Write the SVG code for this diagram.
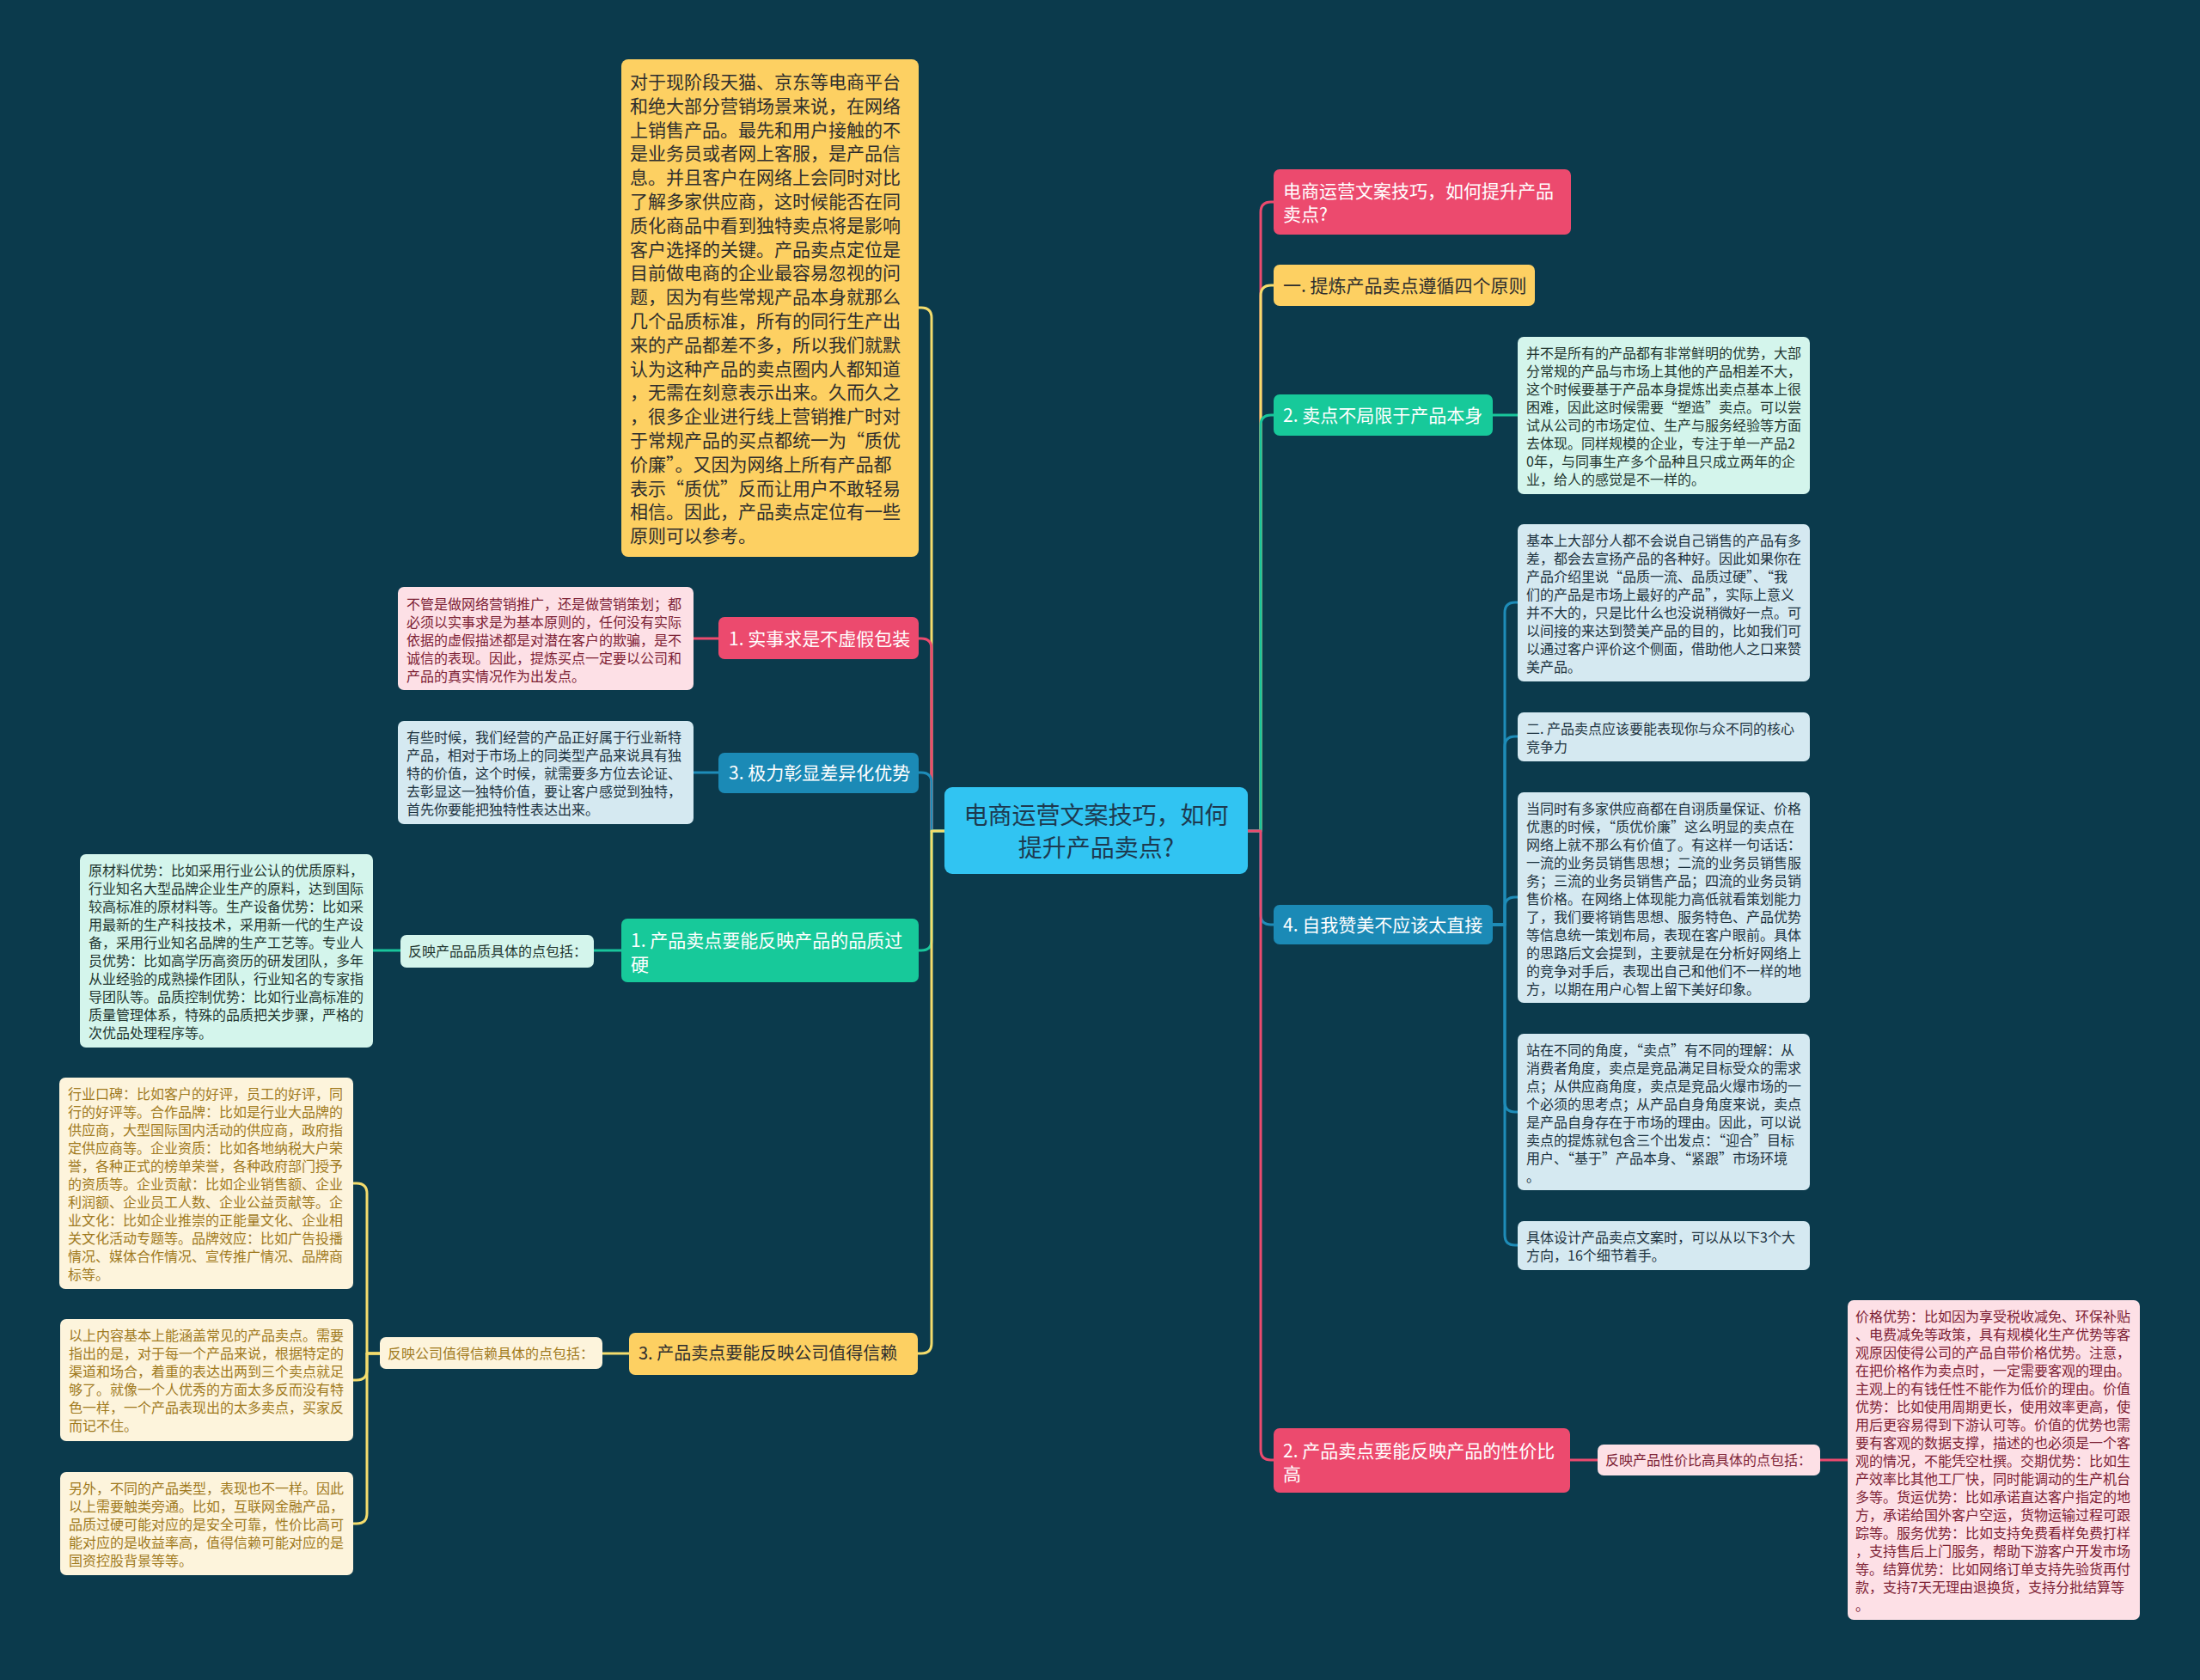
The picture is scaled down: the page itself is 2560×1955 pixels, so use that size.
<svg xmlns="http://www.w3.org/2000/svg" width="2560" height="1955" viewBox="0 0 2560 1955">
<style>
text{font-family:"Noto Sans CJK SC","Noto Sans",sans-serif}
.s{font-size:16px}
.m{font-size:21px}
.c{fill:none;stroke-width:3;stroke-linecap:round;stroke-linejoin:round}
.cp{stroke:#ec4a6e}.cy{stroke:#f4dc6c}.cg{stroke:#19c59b}.cb{stroke:#1e8cb8}
.fp{fill:#ec4a6e}.fy{fill:#fdd062}.fg{fill:#17c99a}.fb{fill:#1b8ab6}
.lp{fill:#fde0e6}.ly{fill:#fdf4dc}.lg{fill:#d4f5ec}.lb{fill:#d5e9f1}
.tw{fill:#ffffff}.td{fill:#2e2e2e}.tp{fill:#7d2235}.ty{fill:#a07a1e}.tg{fill:#22352f}.tb{fill:#1d3340}
</style>
<rect width="2560" height="1955" fill="#0b3a4c"/>
<g id="connectors">
<path class="c cy" d="M1099,967 H1084 V370 Q1084,358 1072,358 H1069"/>
<path class="c cp" d="M1099,967 H1084 V755 Q1084,743 1072,743 H1069"/>
<path class="c cb" d="M1099,967 H1084 V911 Q1084,899 1072,899 H1069"/>
<path class="c cg" d="M1099,967 H1084 V1094 Q1084,1106 1072,1106 H1069"/>
<path class="c cy" d="M1099,967 H1084 V1563 Q1084,1575 1072,1575 H1068"/>
<path class="c cp" d="M1452,967 H1467 V247 Q1467,235 1479,235 H1482"/>
<path class="c cy" d="M1452,967 H1467 V344 Q1467,332 1479,332 H1482"/>
<path class="c cg" d="M1452,967 H1467 V495 Q1467,483 1479,483 H1482"/>
<path class="c cb" d="M1452,967 H1467 V1064 Q1467,1076 1479,1076 H1482"/>
<path class="c cp" d="M1452,967 H1467 V1687 Q1467,1699 1479,1699 H1482"/>
<path class="c cp" d="M836,743 H807"/>
<path class="c cb" d="M836,899 H807"/>
<path class="c cg" d="M723,1106 H691"/>
<path class="c cg" d="M466,1106 H434"/>
<path class="c cy" d="M732,1575 H701"/>
<path class="c cy" d="M442,1575 H427 V1389 Q427,1377 415,1377 H411"/>
<path class="c cy" d="M442,1575 H427 V1594 Q427,1606 415,1606 H411"/>
<path class="c cy" d="M442,1575 H427 V1761 Q427,1773 415,1773 H411"/>
<path class="c cg" d="M1737,483 H1766"/>
<path class="c cb" d="M1737,1076 H1751 V713 Q1751,701 1763,701 H1766"/>
<path class="c cb" d="M1737,1076 H1751 V869 Q1751,857 1763,857 H1766"/>
<path class="c cb" d="M1737,1076 H1751 V1056 Q1751,1044 1763,1044 H1766"/>
<path class="c cb" d="M1737,1076 H1751 V1282 Q1751,1294 1763,1294 H1766"/>
<path class="c cb" d="M1737,1076 H1751 V1437 Q1751,1449 1763,1449 H1766"/>
<path class="c cp" d="M1827,1699 H1859"/>
<path class="c cp" d="M2118,1699 H2150"/>
</g>
<g id="center">
<rect x="1099" y="916" width="353" height="101" rx="9" fill="#31c4f2"/>
<text x="1275.5" y="959" font-size="28" fill="#1d3a50" text-anchor="middle">电商运营文案技巧，如何</text>
<text x="1275.5" y="997" font-size="28" fill="#1d3a50" text-anchor="middle">提升产品卖点?</text>
</g>
<g id="intro">
<rect class="fy" x="723" y="69" width="346" height="579" rx="8"/>
<text class="m td" x="733" y="103">
<tspan x="733">对于现阶段天猫、京东等电商平台</tspan>
<tspan x="733" dy="27.8">和绝大部分营销场景来说，在网络</tspan>
<tspan x="733" dy="27.8">上销售产品。最先和用户接触的不</tspan>
<tspan x="733" dy="27.8">是业务员或者网上客服，是产品信</tspan>
<tspan x="733" dy="27.8">息。并且客户在网络上会同时对比</tspan>
<tspan x="733" dy="27.8">了解多家供应商，这时候能否在同</tspan>
<tspan x="733" dy="27.8">质化商品中看到独特卖点将是影响</tspan>
<tspan x="733" dy="27.8">客户选择的关键。产品卖点定位是</tspan>
<tspan x="733" dy="27.8">目前做电商的企业最容易忽视的问</tspan>
<tspan x="733" dy="27.8">题，因为有些常规产品本身就那么</tspan>
<tspan x="733" dy="27.8">几个品质标准，所有的同行生产出</tspan>
<tspan x="733" dy="27.8">来的产品都差不多，所以我们就默</tspan>
<tspan x="733" dy="27.8">认为这种产品的卖点圈内人都知道</tspan>
<tspan x="733" dy="27.8">，无需在刻意表示出来。久而久之</tspan>
<tspan x="733" dy="27.8">，很多企业进行线上营销推广时对</tspan>
<tspan x="733" dy="27.8">于常规产品的买点都统一为“质优</tspan>
<tspan x="733" dy="27.8">价廉”。又因为网络上所有产品都</tspan>
<tspan x="733" dy="27.8">表示“质优”反而让用户不敢轻易</tspan>
<tspan x="733" dy="27.8">相信。因此，产品卖点定位有一些</tspan>
<tspan x="733" dy="27.8">原则可以参考。</tspan>
</text>
</g>
<g id="n-l1">
<rect class="fp" x="836" y="718" width="233" height="49" rx="7"/>
<text class="m tw" x="848" y="751">1. 实事求是不虚假包装</text>
</g>
<g id="n-l1-text">
<rect class="lp" x="463" y="683" width="344" height="120" rx="7"/>
<text class="s tp">
<tspan x="473" y="709">不管是做网络营销推广，还是做营销策划；都</tspan>
<tspan x="473" dy="21">必须以实事求是为基本原则的，任何没有实际</tspan>
<tspan x="473" dy="21">依据的虚假描述都是对潜在客户的欺骗，是不</tspan>
<tspan x="473" dy="21">诚信的表现。因此，提炼买点一定要以公司和</tspan>
<tspan x="473" dy="21">产品的真实情况作为出发点。</tspan>
</text>
</g>
<g id="n-l3">
<rect class="fb" x="836" y="876" width="233" height="47" rx="7"/>
<text class="m tw" x="848" y="907">3. 极力彰显差异化优势</text>
</g>
<g id="n-l3-text">
<rect class="lb" x="463" y="839" width="344" height="120" rx="7"/>
<text class="s tb">
<tspan x="473" y="864">有些时候，我们经营的产品正好属于行业新特</tspan>
<tspan x="473" dy="21">产品，相对于市场上的同类型产品来说具有独</tspan>
<tspan x="473" dy="21">特的价值，这个时候，就需要多方位去论证、</tspan>
<tspan x="473" dy="21">去彰显这一独特价值，要让客户感觉到独特，</tspan>
<tspan x="473" dy="21">首先你要能把独特性表达出来。</tspan>
</text>
</g>
<g id="n-quality">
<rect class="fg" x="723" y="1069" width="346" height="74" rx="7"/>
<text class="m tw">
<tspan x="734" y="1102">1. 产品卖点要能反映产品的品质过</tspan>
<tspan x="734" y="1130">硬</tspan>
</text>
</g>
<g id="n-quality-label">
<rect class="lg" x="466" y="1088" width="225" height="38" rx="7"/>
<text class="s tg" x="475" y="1113">反映产品品质具体的点包括：</text>
</g>
<g id="n-quality-text">
<rect class="lg" x="93" y="994" width="341" height="225" rx="7"/>
<text class="s tg">
<tspan x="103" y="1019">原材料优势：比如采用行业公认的优质原料，</tspan>
<tspan x="103" dy="21">行业知名大型品牌企业生产的原料，达到国际</tspan>
<tspan x="103" dy="21">较高标准的原材料等。生产设备优势：比如采</tspan>
<tspan x="103" dy="21">用最新的生产科技技术，采用新一代的生产设</tspan>
<tspan x="103" dy="21">备，采用行业知名品牌的生产工艺等。专业人</tspan>
<tspan x="103" dy="21">员优势：比如高学历高资历的研发团队，多年</tspan>
<tspan x="103" dy="21">从业经验的成熟操作团队，行业知名的专家指</tspan>
<tspan x="103" dy="21">导团队等。品质控制优势：比如行业高标准的</tspan>
<tspan x="103" dy="21">质量管理体系，特殊的品质把关步骤，严格的</tspan>
<tspan x="103" dy="21">次优品处理程序等。</tspan>
</text>
</g>
<g id="n-trust">
<rect class="fy" x="732" y="1551" width="336" height="49" rx="7"/>
<text class="td" font-size="20" x="743" y="1582">3. 产品卖点要能反映公司值得信赖</text>
</g>
<g id="n-trust-label">
<rect class="ly" x="442" y="1556" width="259" height="37" rx="7"/>
<text class="s ty" x="451" y="1581">反映公司值得信赖具体的点包括：</text>
</g>
<g id="n-trust-t1">
<rect class="ly" x="69" y="1254" width="342" height="246" rx="7"/>
<text class="s ty">
<tspan x="79" y="1279">行业口碑：比如客户的好评，员工的好评，同</tspan>
<tspan x="79" dy="21">行的好评等。合作品牌：比如是行业大品牌的</tspan>
<tspan x="79" dy="21">供应商，大型国际国内活动的供应商，政府指</tspan>
<tspan x="79" dy="21">定供应商等。企业资质：比如各地纳税大户荣</tspan>
<tspan x="79" dy="21">誉，各种正式的榜单荣誉，各种政府部门授予</tspan>
<tspan x="79" dy="21">的资质等。企业贡献：比如企业销售额、企业</tspan>
<tspan x="79" dy="21">利润额、企业员工人数、企业公益贡献等。企</tspan>
<tspan x="79" dy="21">业文化：比如企业推崇的正能量文化、企业相</tspan>
<tspan x="79" dy="21">关文化活动专题等。品牌效应：比如广告投播</tspan>
<tspan x="79" dy="21">情况、媒体合作情况、宣传推广情况、品牌商</tspan>
<tspan x="79" dy="21">标等。</tspan>
</text>
</g>
<g id="n-trust-t2">
<rect class="ly" x="70" y="1535" width="341" height="142" rx="7"/>
<text class="s ty">
<tspan x="80" y="1560">以上内容基本上能涵盖常见的产品卖点。需要</tspan>
<tspan x="80" dy="21">指出的是，对于每一个产品来说，根据特定的</tspan>
<tspan x="80" dy="21">渠道和场合，着重的表达出两到三个卖点就足</tspan>
<tspan x="80" dy="21">够了。就像一个人优秀的方面太多反而没有特</tspan>
<tspan x="80" dy="21">色一样，一个产品表现出的太多卖点，买家反</tspan>
<tspan x="80" dy="21">而记不住。</tspan>
</text>
</g>
<g id="n-trust-t3">
<rect class="ly" x="70" y="1713" width="341" height="120" rx="7"/>
<text class="s ty">
<tspan x="80" y="1738">另外，不同的产品类型，表现也不一样。因此</tspan>
<tspan x="80" dy="21">以上需要触类旁通。比如，互联网金融产品，</tspan>
<tspan x="80" dy="21">品质过硬可能对应的是安全可靠，性价比高可</tspan>
<tspan x="80" dy="21">能对应的是收益率高，值得信赖可能对应的是</tspan>
<tspan x="80" dy="21">国资控股背景等等。</tspan>
</text>
</g>
<g id="n-title">
<rect class="fp" x="1482" y="197" width="346" height="76" rx="7"/>
<text class="m tw">
<tspan x="1493" y="230">电商运营文案技巧，如何提升产品</tspan>
<tspan x="1493" y="257">卖点?</tspan>
</text>
</g>
<g id="n-principles">
<rect class="fy" x="1482" y="308" width="304" height="48" rx="7"/>
<text class="m td" x="1493" y="340">一. 提炼产品卖点遵循四个原则</text>
</g>
<g id="n-r2">
<rect class="fg" x="1482" y="459" width="255" height="48" rx="7"/>
<text class="m tw" x="1493" y="491">2. 卖点不局限于产品本身</text>
</g>
<g id="n-r2-text">
<rect class="lg" x="1766" y="392" width="340" height="183" rx="7"/>
<text class="s tg">
<tspan x="1776" y="417">并不是所有的产品都有非常鲜明的优势，大部</tspan>
<tspan x="1776" dy="21">分常规的产品与市场上其他的产品相差不大，</tspan>
<tspan x="1776" dy="21">这个时候要基于产品本身提炼出卖点基本上很</tspan>
<tspan x="1776" dy="21">困难，因此这时候需要“塑造”卖点。可以尝</tspan>
<tspan x="1776" dy="21">试从公司的市场定位、生产与服务经验等方面</tspan>
<tspan x="1776" dy="21">去体现。同样规模的企业，专注于单一产品2</tspan>
<tspan x="1776" dy="21">0年，与同事生产多个品种且只成立两年的企</tspan>
<tspan x="1776" dy="21">业，给人的感觉是不一样的。</tspan>
</text>
</g>
<g id="n-r4">
<rect class="fb" x="1482" y="1053" width="255" height="46" rx="7"/>
<text class="m tw" x="1493" y="1084">4. 自我赞美不应该太直接</text>
</g>
<g id="n-r4-t1">
<rect class="lb" x="1766" y="610" width="340" height="183" rx="7"/>
<text class="s tb">
<tspan x="1776" y="635">基本上大部分人都不会说自己销售的产品有多</tspan>
<tspan x="1776" dy="21">差，都会去宣扬产品的各种好。因此如果你在</tspan>
<tspan x="1776" dy="21">产品介绍里说“品质一流、品质过硬”、“我</tspan>
<tspan x="1776" dy="21">们的产品是市场上最好的产品”，实际上意义</tspan>
<tspan x="1776" dy="21">并不大的，只是比什么也没说稍微好一点。可</tspan>
<tspan x="1776" dy="21">以间接的来达到赞美产品的目的，比如我们可</tspan>
<tspan x="1776" dy="21">以通过客户评价这个侧面，借助他人之口来赞</tspan>
<tspan x="1776" dy="21">美产品。</tspan>
</text>
</g>
<g id="n-r4-t2">
<rect class="lb" x="1766" y="829" width="340" height="57" rx="7"/>
<text class="s tb">
<tspan x="1776" y="854">二. 产品卖点应该要能表现你与众不同的核心</tspan>
<tspan x="1776" dy="21">竞争力</tspan>
</text>
</g>
<g id="n-r4-t3">
<rect class="lb" x="1766" y="922" width="340" height="245" rx="7"/>
<text class="s tb">
<tspan x="1776" y="947">当同时有多家供应商都在自诩质量保证、价格</tspan>
<tspan x="1776" dy="21">优惠的时候，“质优价廉”这么明显的卖点在</tspan>
<tspan x="1776" dy="21">网络上就不那么有价值了。有这样一句话话：</tspan>
<tspan x="1776" dy="21">一流的业务员销售思想；二流的业务员销售服</tspan>
<tspan x="1776" dy="21">务；三流的业务员销售产品；四流的业务员销</tspan>
<tspan x="1776" dy="21">售价格。在网络上体现能力高低就看策划能力</tspan>
<tspan x="1776" dy="21">了，我们要将销售思想、服务特色、产品优势</tspan>
<tspan x="1776" dy="21">等信息统一策划布局，表现在客户眼前。具体</tspan>
<tspan x="1776" dy="21">的思路后文会提到，主要就是在分析好网络上</tspan>
<tspan x="1776" dy="21">的竞争对手后，表现出自己和他们不一样的地</tspan>
<tspan x="1776" dy="21">方，以期在用户心智上留下美好印象。</tspan>
</text>
</g>
<g id="n-r4-t4">
<rect class="lb" x="1766" y="1203" width="340" height="182" rx="7"/>
<text class="s tb">
<tspan x="1776" y="1228">站在不同的角度，“卖点”有不同的理解：从</tspan>
<tspan x="1776" dy="21">消费者角度，卖点是竞品满足目标受众的需求</tspan>
<tspan x="1776" dy="21">点；从供应商角度，卖点是竞品火爆市场的一</tspan>
<tspan x="1776" dy="21">个必须的思考点；从产品自身角度来说，卖点</tspan>
<tspan x="1776" dy="21">是产品自身存在于市场的理由。因此，可以说</tspan>
<tspan x="1776" dy="21">卖点的提炼就包含三个出发点：“迎合”目标</tspan>
<tspan x="1776" dy="21">用户、“基于”产品本身、“紧跟”市场环境</tspan>
<tspan x="1776" dy="21">。</tspan>
</text>
</g>
<g id="n-r4-t5">
<rect class="lb" x="1766" y="1421" width="340" height="57" rx="7"/>
<text class="s tb">
<tspan x="1776" y="1446">具体设计产品卖点文案时，可以从以下3个大</tspan>
<tspan x="1776" dy="21">方向，16个细节着手。</tspan>
</text>
</g>
<g id="n-price">
<rect class="fp" x="1482" y="1662" width="345" height="75" rx="7"/>
<text class="m tw">
<tspan x="1493" y="1696">2. 产品卖点要能反映产品的性价比</tspan>
<tspan x="1493" y="1723">高</tspan>
</text>
</g>
<g id="n-price-label">
<rect class="lp" x="1859" y="1681" width="259" height="36" rx="7"/>
<text class="s tp" x="1868" y="1705">反映产品性价比高具体的点包括：</text>
</g>
<g id="n-price-text">
<rect class="lp" x="2150" y="1513" width="340" height="372" rx="7"/>
<text class="s tp">
<tspan x="2159" y="1538">价格优势：比如因为享受税收减免、环保补贴</tspan>
<tspan x="2159" dy="21">、电费减免等政策，具有规模化生产优势等客</tspan>
<tspan x="2159" dy="21">观原因使得公司的产品自带价格优势。注意，</tspan>
<tspan x="2159" dy="21">在把价格作为卖点时，一定需要客观的理由。</tspan>
<tspan x="2159" dy="21">主观上的有钱任性不能作为低价的理由。价值</tspan>
<tspan x="2159" dy="21">优势：比如使用周期更长，使用效率更高，使</tspan>
<tspan x="2159" dy="21">用后更容易得到下游认可等。价值的优势也需</tspan>
<tspan x="2159" dy="21">要有客观的数据支撑，描述的也必须是一个客</tspan>
<tspan x="2159" dy="21">观的情况，不能凭空杜撰。交期优势：比如生</tspan>
<tspan x="2159" dy="21">产效率比其他工厂快，同时能调动的生产机台</tspan>
<tspan x="2159" dy="21">多等。货运优势：比如承诺直达客户指定的地</tspan>
<tspan x="2159" dy="21">方，承诺给国外客户空运，货物运输过程可跟</tspan>
<tspan x="2159" dy="21">踪等。服务优势：比如支持免费看样免费打样</tspan>
<tspan x="2159" dy="21">，支持售后上门服务，帮助下游客户开发市场</tspan>
<tspan x="2159" dy="21">等。结算优势：比如网络订单支持先验货再付</tspan>
<tspan x="2159" dy="21">款，支持7天无理由退换货，支持分批结算等</tspan>
<tspan x="2159" dy="21">。</tspan>
</text>
</g>
</svg>
